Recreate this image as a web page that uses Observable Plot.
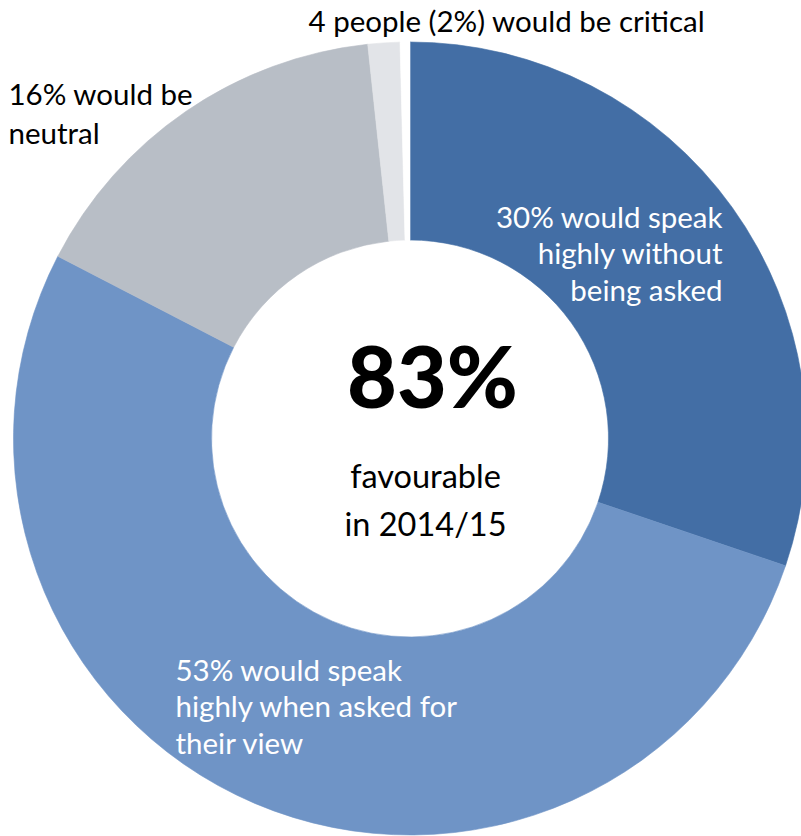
<!DOCTYPE html>
<html><head><meta charset="utf-8">
<script src="https://cdn.jsdelivr.net/npm/d3@7"></script>
<script src="https://cdn.jsdelivr.net/npm/@observablehq/plot@0.6"></script>
<style>html,body{margin:0;padding:0;background:#fff} svg{display:block}</style>
</head><body><div id="chart"></div>
<script>
// ---- data ----
const categories = [
  "would speak highly without being asked",
  "would speak highly when asked for their view",
  "would be neutral",
  "would be critical",
  "not stated"
];
const shares = [30.2, 52.4, 15.7, 1.3, 0.4];
const sliceLabels = [
  "30% would speak\nhighly without\nbeing asked",
  "53% would speak\nhighly when asked for\ntheir view",
  "16% would be\nneutral",
  "4 people (2%) would be critical"
];
const headline = "83%";
const subline = "favourable\nin 2014/15";

// ---- style / layout ----
const colors = ["#436ea5", "#6f94c6", "#b8bec6", "#e2e4e8", "#ffffff"];
const W = 801, H = 836, CX = 410, CY = 438.5, R = 396.5, INNER = 198.5 / 396.5;
const FONT = "Lato, 'Open Sans', sans-serif";
const ux = px => (px - CX) / R, uy = py => (CY - py) / R;
// label anchor positions (px), styles
const labelLayout = [
  {px: 722, py: 300, anchor: "end", fill: "white", size: 29.5, lh: 1.237},
  {px: 175, py: 753, anchor: "start", fill: "white", size: 29.5, lh: 1.237},
  {px: 8, py: 143, anchor: "start", fill: "black", size: 29.5, lh: 1.29},
  {px: 308, py: 31, anchor: "start", fill: "black", size: 29.5, lh: 1.24}
];

const rows = categories.map((c, i) => ({category: c, share: shares[i]}));
const color = Plot.scale({color: {type: "ordinal", domain: categories, range: colors}});

function donut(index, scales) {
  const x0 = scales.x(0), y0 = scales.y(0), rr = scales.x(1) - scales.x(0);
  const arcs = d3.pie().sort(null).value(d => d.share)(rows);
  const arc = d3.arc().innerRadius(rr * INNER).outerRadius(rr);
  const g = d3.create("svg:g").attr("transform", `translate(${x0},${y0})`);
  g.selectAll("path").data(arcs).join("path")
    .attr("d", arc)
    .attr("fill", d => color.apply(d.data.category))
    .attr("stroke", d => color.apply(d.data.category))
    .attr("stroke-width", 0.6);
  return g.node();
}

const labelMarks = sliceLabels.map((t, i) => {
  const L = labelLayout[i];
  return Plot.text([{t, x: ux(L.px), y: uy(L.py)}], {
    x: "x", y: "y", text: "t", textAnchor: L.anchor, lineAnchor: "bottom",
    fill: L.fill, fontSize: L.size, lineHeight: L.lh, fontFamily: FONT
  });
});

const chart = Plot.plot({
  width: W, height: H, margin: 0,
  x: {domain: [ux(0), ux(W)], axis: null},
  y: {domain: [uy(H), uy(0)], axis: null},
  style: {fontFamily: FONT, background: "white", overflow: "hidden"},
  marks: [
    donut,
    ...labelMarks,
    Plot.text([{t: headline, x: ux(432), y: uy(407)}], {
      x: "x", y: "y", text: "t", textAnchor: "middle", lineAnchor: "bottom",
      fontSize: 86, fontWeight: 900, fill: "black", fontFamily: FONT
    }),
    Plot.text([{t: subline, x: ux(425), y: uy(535)}], {
      x: "x", y: "y", text: "t", textAnchor: "middle", lineAnchor: "bottom",
      fontSize: 32.5, lineHeight: 1.477, fill: "black", fontFamily: FONT
    })
  ]
});
document.getElementById("chart").appendChild(chart);
</script>
</body></html>
